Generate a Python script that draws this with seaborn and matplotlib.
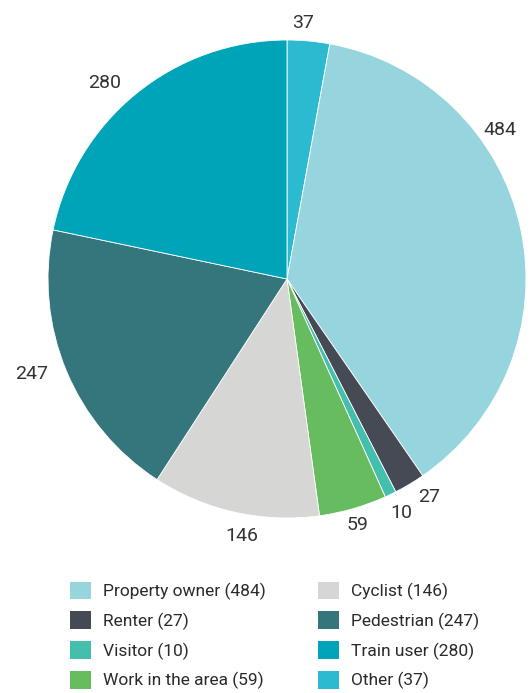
import numpy as np
import matplotlib
matplotlib.use('Agg')
import matplotlib.pyplot as plt
import seaborn as sns

sns.set_theme(style='white')
plt.rcParams['font.family'] = ['Roboto', 'DejaVu Sans']

# slices clockwise from 12 o'clock
categories = ['Other', 'Property owner', 'Renter', 'Visitor', 'Work in the area',
              'Cyclist', 'Pedestrian', 'Train user']
values = [37, 484, 27, 10, 59, 146, 247, 280]
colors = ['#2bbad0', '#96d5dd', '#464a54', '#45bfad', '#66bc5e',
          '#d6d6d4', '#35767c', '#00a4b8']
legend_order = ['Property owner', 'Renter', 'Visitor', 'Work in the area',
                'Cyclist', 'Pedestrian', 'Train user', 'Other']

fig = plt.figure(figsize=(5.31, 6.93), dpi=100)
ax = fig.add_axes([48 / 531, 1 - 518 / 693, 478 / 531, 478 / 693])

wedges, _ = ax.pie(values, colors=colors, startangle=90, counterclock=False,
                   wedgeprops=dict(edgecolor='white', linewidth=0.6))
ax.set_xlim(-1, 1)
ax.set_ylim(-1, 1)
ax.set_aspect('equal')

# value labels just outside each slice; some nudged to avoid clashes
angle_override = {'Other': 86.5, 'Property owner': 35, 'Renter': -57,
                  'Visitor': -64, 'Cyclist': -100, 'Pedestrian': -159.5,
                  'Train user': 133}
radius_override = {'Other': 1.075, 'Work in the area': 1.07,
                   'Pedestrian': 1.14, 'Train user': 1.12}
total = sum(values)
start = 90.0
for cat, v in zip(categories, values):
    span = v / total * 360
    mid = start - span / 2
    start -= span
    mid = angle_override.get(cat, mid)
    r = radius_override.get(cat, 1.09)
    x, y = r * np.cos(np.radians(mid)), r * np.sin(np.radians(mid))
    ax.text(x, y, str(v), ha='center', va='center', fontsize=14,
            fontweight='normal', color='#333333', clip_on=False)

handles = [wedges[categories.index(c)] for c in legend_order]
labels = [f'{c} ({values[categories.index(c)]})' for c in legend_order]
leg = fig.legend(handles, labels, ncol=2, loc='upper left',
                 bbox_to_anchor=(61 / 531, 1 - 573 / 693), frameon=False,
                 fontsize=12.5, handlelength=1.2, handleheight=1.2,
                 handletextpad=0.7, labelspacing=0.64, columnspacing=3.05,
                 borderpad=0)
for t in leg.get_texts():
    t.set_color('#2a2a2a')
for h in leg.legend_handles:
    h.set_edgecolor('none')

fig.savefig('out.png', dpi=100)
